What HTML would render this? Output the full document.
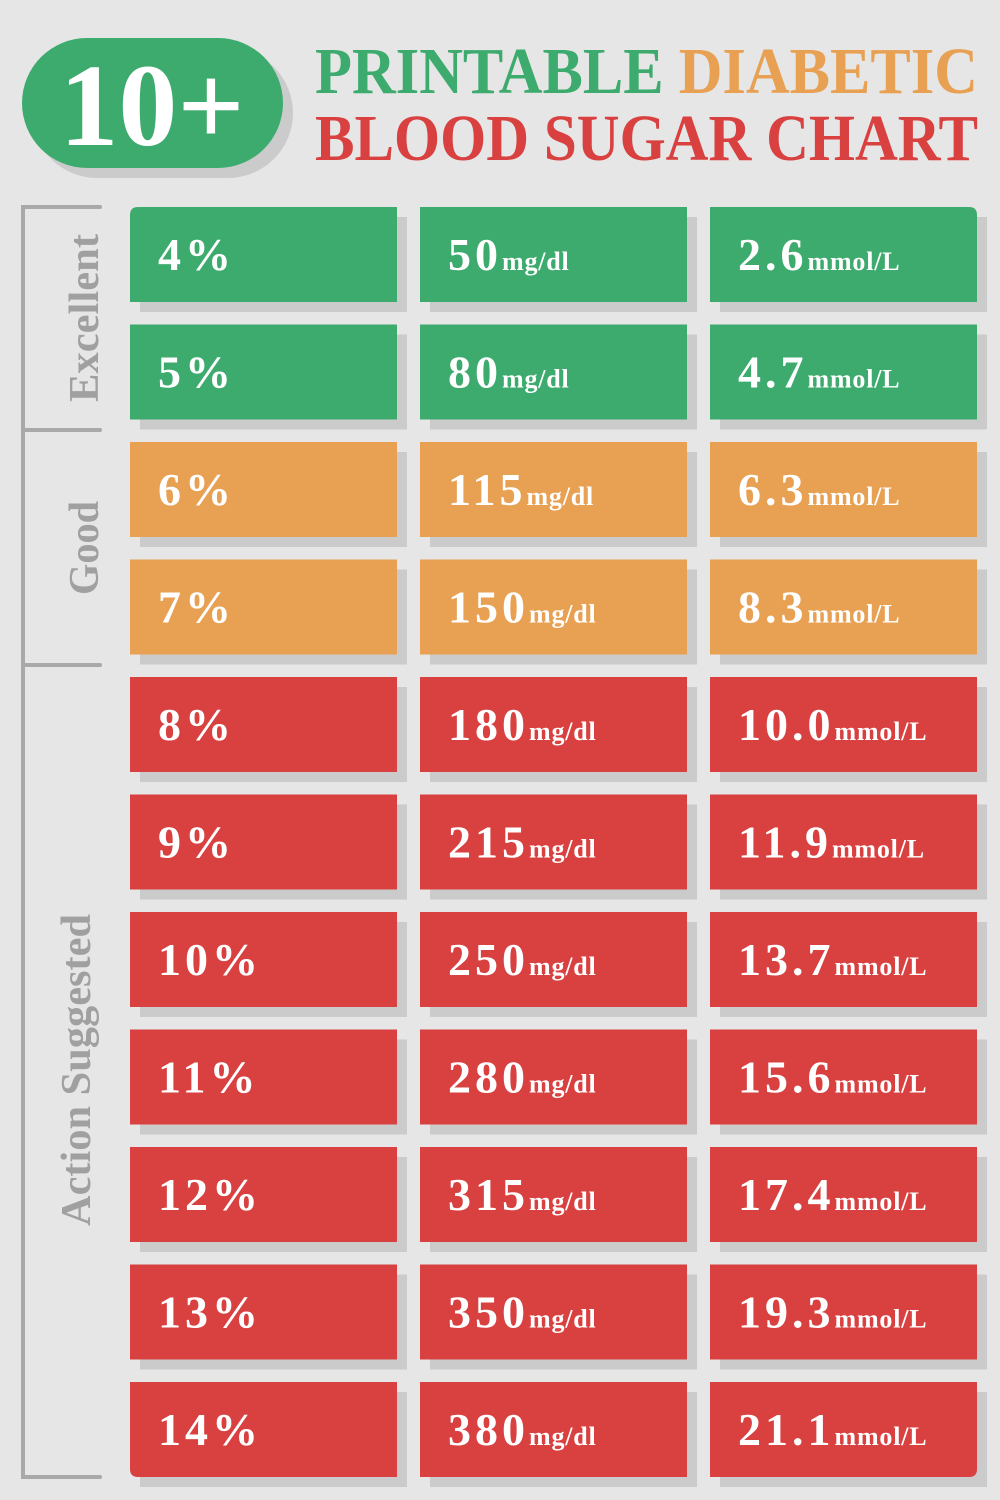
<!DOCTYPE html>
<html><head><meta charset="utf-8"><style>html,body{margin:0;padding:0;background:#e6e6e6}svg{display:block}.u{font-size:26px;letter-spacing:0.8px}</style></head>
<body>
<svg width="1000" height="1500" viewBox="0 0 1000 1500" xmlns="http://www.w3.org/2000/svg" font-family="'Liberation Serif', serif" font-weight="bold">
<rect width="1000" height="1500" fill="#e6e6e6"/>
<rect x="32" y="48" width="261" height="130" rx="65" fill="#cbcbcb"/>
<rect x="22" y="38" width="261" height="130" rx="65" fill="#3dab6e"/>
<text x="152" y="145" font-size="118" fill="#fff" text-anchor="middle" textLength="185" lengthAdjust="spacingAndGlyphs">10+</text>
<text x="315" y="93" font-size="66" textLength="663" lengthAdjust="spacingAndGlyphs"><tspan fill="#3dab6e">PRINTABLE </tspan><tspan fill="#e8a053">DIABETIC</tspan></text>
<text x="315" y="160" font-size="66" fill="#d94040" textLength="663" lengthAdjust="spacingAndGlyphs">BLOOD SUGAR CHART</text>
<g stroke="#a9a9a9" stroke-width="4" fill="none" stroke-linecap="round">
<path d="M100 207 H23 V1477 H100"/>
<path d="M23 430 H100"/>
<path d="M23 665 H100"/>
</g>
<g fill="#a0a0a0" font-size="42">
<text transform="translate(98,318) rotate(-90)" text-anchor="middle" textLength="168" lengthAdjust="spacingAndGlyphs">Excellent</text>
<text transform="translate(98,548) rotate(-90)" text-anchor="middle" textLength="94" lengthAdjust="spacingAndGlyphs">Good</text>
<text transform="translate(90,1070) rotate(-90)" text-anchor="middle" textLength="312" lengthAdjust="spacingAndGlyphs">Action Suggested</text>
</g>
<g fill="#cbcbcb">
<rect x="140" y="217" width="267" height="95"/><rect x="430" y="217" width="267" height="95"/><rect x="720" y="217" width="267" height="95"/>
<rect x="140" y="334.5" width="267" height="95"/><rect x="430" y="334.5" width="267" height="95"/><rect x="720" y="334.5" width="267" height="95"/>
<rect x="140" y="452" width="267" height="95"/><rect x="430" y="452" width="267" height="95"/><rect x="720" y="452" width="267" height="95"/>
<rect x="140" y="569.5" width="267" height="95"/><rect x="430" y="569.5" width="267" height="95"/><rect x="720" y="569.5" width="267" height="95"/>
<rect x="140" y="687" width="267" height="95"/><rect x="430" y="687" width="267" height="95"/><rect x="720" y="687" width="267" height="95"/>
<rect x="140" y="804.5" width="267" height="95"/><rect x="430" y="804.5" width="267" height="95"/><rect x="720" y="804.5" width="267" height="95"/>
<rect x="140" y="922" width="267" height="95"/><rect x="430" y="922" width="267" height="95"/><rect x="720" y="922" width="267" height="95"/>
<rect x="140" y="1039.5" width="267" height="95"/><rect x="430" y="1039.5" width="267" height="95"/><rect x="720" y="1039.5" width="267" height="95"/>
<rect x="140" y="1157" width="267" height="95"/><rect x="430" y="1157" width="267" height="95"/><rect x="720" y="1157" width="267" height="95"/>
<rect x="140" y="1274.5" width="267" height="95"/><rect x="430" y="1274.5" width="267" height="95"/><rect x="720" y="1274.5" width="267" height="95"/>
<rect x="140" y="1392" width="267" height="95"/><rect x="430" y="1392" width="267" height="95"/><rect x="720" y="1392" width="267" height="95"/>
</g>
<g fill="#3dab6e">
<path d="M138 207 H397 V302 H130 V215 Q130 207 138 207Z"/><rect x="420" y="207" width="267" height="95"/><path d="M710 207 H969 Q977 207 977 215 V302 H710Z"/>
<rect x="130" y="324.5" width="267" height="95"/><rect x="420" y="324.5" width="267" height="95"/><rect x="710" y="324.5" width="267" height="95"/>
</g>
<g fill="#e8a053">
<rect x="130" y="442" width="267" height="95"/><rect x="420" y="442" width="267" height="95"/><rect x="710" y="442" width="267" height="95"/>
<rect x="130" y="559.5" width="267" height="95"/><rect x="420" y="559.5" width="267" height="95"/><rect x="710" y="559.5" width="267" height="95"/>
</g>
<g fill="#d94040">
<rect x="130" y="677" width="267" height="95"/><rect x="420" y="677" width="267" height="95"/><rect x="710" y="677" width="267" height="95"/>
<rect x="130" y="794.5" width="267" height="95"/><rect x="420" y="794.5" width="267" height="95"/><rect x="710" y="794.5" width="267" height="95"/>
<rect x="130" y="912" width="267" height="95"/><rect x="420" y="912" width="267" height="95"/><rect x="710" y="912" width="267" height="95"/>
<rect x="130" y="1029.5" width="267" height="95"/><rect x="420" y="1029.5" width="267" height="95"/><rect x="710" y="1029.5" width="267" height="95"/>
<rect x="130" y="1147" width="267" height="95"/><rect x="420" y="1147" width="267" height="95"/><rect x="710" y="1147" width="267" height="95"/>
<rect x="130" y="1264.5" width="267" height="95"/><rect x="420" y="1264.5" width="267" height="95"/><rect x="710" y="1264.5" width="267" height="95"/>
<path d="M130 1382 H397 V1477 H138 Q130 1477 130 1469Z"/><rect x="420" y="1382" width="267" height="95"/><path d="M710 1382 H977 V1469 Q977 1477 969 1477 H710Z"/>
</g>
<g fill="#fff" font-size="46" letter-spacing="4">
<text x="158" y="270">4%</text><text x="448" y="270">50<tspan class="u">mg/dl</tspan></text><text x="738" y="270">2.6<tspan class="u">mmol/L</tspan></text>
<text x="158" y="387.5">5%</text><text x="448" y="387.5">80<tspan class="u">mg/dl</tspan></text><text x="738" y="387.5">4.7<tspan class="u">mmol/L</tspan></text>
<text x="158" y="505">6%</text><text x="448" y="505">115<tspan class="u">mg/dl</tspan></text><text x="738" y="505">6.3<tspan class="u">mmol/L</tspan></text>
<text x="158" y="622.5">7%</text><text x="448" y="622.5">150<tspan class="u">mg/dl</tspan></text><text x="738" y="622.5">8.3<tspan class="u">mmol/L</tspan></text>
<text x="158" y="740">8%</text><text x="448" y="740">180<tspan class="u">mg/dl</tspan></text><text x="738" y="740">10.0<tspan class="u">mmol/L</tspan></text>
<text x="158" y="857.5">9%</text><text x="448" y="857.5">215<tspan class="u">mg/dl</tspan></text><text x="738" y="857.5">11.9<tspan class="u">mmol/L</tspan></text>
<text x="158" y="975">10%</text><text x="448" y="975">250<tspan class="u">mg/dl</tspan></text><text x="738" y="975">13.7<tspan class="u">mmol/L</tspan></text>
<text x="158" y="1092.5">11%</text><text x="448" y="1092.5">280<tspan class="u">mg/dl</tspan></text><text x="738" y="1092.5">15.6<tspan class="u">mmol/L</tspan></text>
<text x="158" y="1210">12%</text><text x="448" y="1210">315<tspan class="u">mg/dl</tspan></text><text x="738" y="1210">17.4<tspan class="u">mmol/L</tspan></text>
<text x="158" y="1327.5">13%</text><text x="448" y="1327.5">350<tspan class="u">mg/dl</tspan></text><text x="738" y="1327.5">19.3<tspan class="u">mmol/L</tspan></text>
<text x="158" y="1445">14%</text><text x="448" y="1445">380<tspan class="u">mg/dl</tspan></text><text x="738" y="1445">21.1<tspan class="u">mmol/L</tspan></text>
</g>
</svg>
</body></html>
